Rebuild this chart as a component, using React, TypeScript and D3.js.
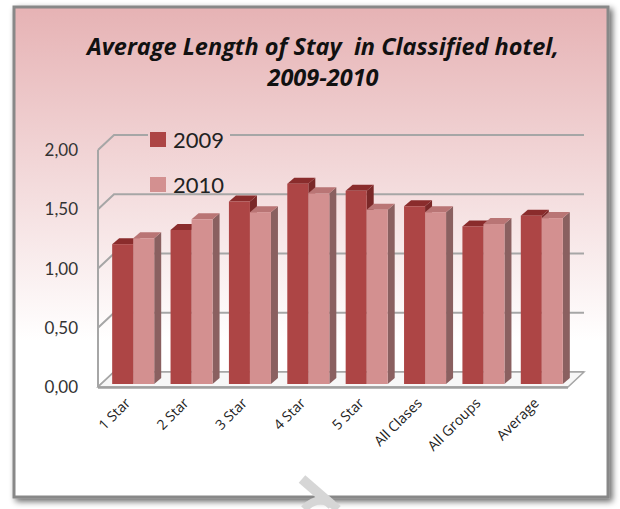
import React from 'react';
import * as d3 from 'd3';

const categories = ['1 Star', '2 Star', '3 Star', '4 Star', '5 Star', 'All Clases', 'All Groups', 'Average'];
const series = ['2009', '2010'];
const values2009 = [1.18, 1.30, 1.54, 1.69, 1.63, 1.50, 1.33, 1.42];
const values2010 = [1.23, 1.39, 1.45, 1.61, 1.47, 1.45, 1.35, 1.40];
const yTicks = [0, 0.5, 1, 1.5, 2];
const titleLines = ['Average Length of Stay  in Classified hotel,', '2009-2010'];

const width = 620;
const height = 509;

// face colours per series: front, top, side
const colors = {
  '2009': { front: '#ad4545', top: '#8a2c2c', side: '#7a2828' },
  '2010': { front: '#d39090', top: '#b97575', side: '#8a6060' }
};

// 3d geometry of the plot box
const wallDX = 16;
const wallDY = -15;
const barDX = 7;
const barDY = -6;

const App: React.FC = () => {
  const x = d3.scaleBand<string>()
    .domain(categories)
    .range([104, 571])
    .paddingInner(0.28)
    .paddingOuter(0.14);

  const xs = d3.scaleBand<string>()
    .domain(series)
    .range([0, x.bandwidth()]);

  // front of the axis
  const yFront = d3.scaleLinear().domain([0, 2]).range([387, 150]);
  // bars sit a little behind the front edge
  const yBar = d3.scaleLinear().domain([0, 2]).range([384, 147]);

  const axisX = 98;
  const floorRight = 568;

  const bars: { key: string; x0: number; top: number; s: string }[] = [];
  categories.forEach((c, i) => {
    [values2009[i], values2010[i]].forEach((v, j) => {
      bars.push({ key: c + j, x0: (x(c) || 0) + (xs(series[j]) || 0), top: yBar(v), s: series[j] });
    });
  });
  const bw = xs.bandwidth();
  const b0 = yBar(0);

  return (
    <svg width={width} height={height} style={{ display: 'block', position: 'absolute', left: 0, top: 0 }}>
      <defs>
        <linearGradient id="bg" gradientUnits="userSpaceOnUse" x1="0" y1="6" x2="0" y2="499">
          <stop offset="0" stopColor="#e6b2b4" />
          <stop offset="0.68" stopColor="#ffffff" />
          <stop offset="1" stopColor="#ffffff" />
        </linearGradient>
        <filter id="shadow" x="-5%" y="-5%" width="115%" height="115%">
          <feGaussianBlur in="SourceAlpha" stdDeviation="3" />
          <feOffset dx="3" dy="3" result="b" />
          <feComponentTransfer><feFuncA type="linear" slope="0.6" /></feComponentTransfer>
          <feMerge><feMergeNode /><feMergeNode in="SourceGraphic" /></feMerge>
        </filter>
      </defs>
      <rect x={0} y={0} width={width} height={height} fill="#ffffff" />
      <rect x={14} y={7} width={594} height={490} fill="url(#bg)" stroke="#888888" strokeWidth={3} filter="url(#shadow)" />

      {/* faint watermark stroke */}
      <g stroke="#d6d6d6" fill="none">
        <line x1={302} y1={479} x2={332} y2={505} strokeWidth={10} />
        <path d="M304,509 Q320,492 338,509" strokeWidth={8} />
      </g>

      {/* back wall gridlines and left wall */}
      <g stroke="#a6a6a6" strokeWidth={2} fill="none">
        {yTicks.map(t => (
          <path key={t}
            d={`M${axisX},${yFront(t)} L${axisX + wallDX},${yFront(t) + wallDY} L${floorRight + wallDX},${yFront(t) + wallDY}`} />
        ))}
        <line x1={axisX} y1={yFront(2)} x2={axisX} y2={yFront(0)} />
      </g>

      {/* floor */}
      <path
        d={`M${axisX},${yFront(0)} L${axisX + wallDX},${yFront(0) + wallDY} L${floorRight + wallDX},${yFront(0) + wallDY} L${floorRight},${yFront(0)} Z`}
        fill="#f7f7f7" stroke="#a6a6a6" strokeWidth={1.5} />
      <line x1={axisX} y1={yFront(0) + 0.5} x2={floorRight} y2={yFront(0) + 0.5} stroke="#a0a0a0" strokeWidth={2.5} />

      {/* bars */}
      {bars.map(b => {
        const c = colors[b.s as '2009' | '2010'];
        return (
          <g key={b.key}>
            <path d={`M${b.x0 + bw},${b.top} L${b.x0 + bw + barDX},${b.top + barDY} L${b.x0 + bw + barDX},${b0 + barDY} L${b.x0 + bw},${b0} Z`} fill={c.side} />
            <path d={`M${b.x0},${b.top} L${b.x0 + barDX},${b.top + barDY} L${b.x0 + bw + barDX},${b.top + barDY} L${b.x0 + bw},${b.top} Z`} fill={c.top} />
            <rect x={b.x0} y={b.top} width={bw} height={b0 - b.top} fill={c.front} />
          </g>
        );
      })}

      {/* y axis labels */}
      <g fontFamily="Lato, 'Open Sans', sans-serif" fontSize={17} fill="#333333" textAnchor="end">
        {yTicks.map(t => (
          <text key={t} x={78} y={yFront(t)} dy="0.36em">{d3.format('.2f')(t).replace('.', ',')}</text>
        ))}
      </g>

      {/* x axis labels */}
      <g fontFamily="'Open Sans', Lato, sans-serif" fontSize={14} fill="#222222" textAnchor="end">
        {categories.map(c => {
          const cx = (x(c) || 0) + x.bandwidth() / 2 - 2;
          return (
            <text key={c} transform={`translate(${cx},404) rotate(-45)`}>{c}</text>
          );
        })}
      </g>

      {/* legend */}
      <rect x={148} y={125} width={82} height={66} fill="url(#bg)" />
      <g fontFamily="Lato, 'Open Sans', sans-serif" fontSize={22} fill="#222222">
        {series.map((s, i) => (
          <g key={s} transform={`translate(150,${132 + i * 45})`}>
            <rect x={0} y={0} width={16} height={15} fill={colors[s as '2009' | '2010'].front} />
            <text x={23} y={16}>{s}</text>
          </g>
        ))}
      </g>

      {/* title */}
      <g fontFamily="'Open Sans', Lato, sans-serif" fontSize={23.5} fontWeight="bold" fontStyle="italic" fill="#111111" textAnchor="middle">
        {titleLines.map((l, i) => (
          <text key={i} x={323} y={55 + i * 31} style={{ whiteSpace: 'pre' }}>{l}</text>
        ))}
      </g>
    </svg>
  );
};

export default App;
